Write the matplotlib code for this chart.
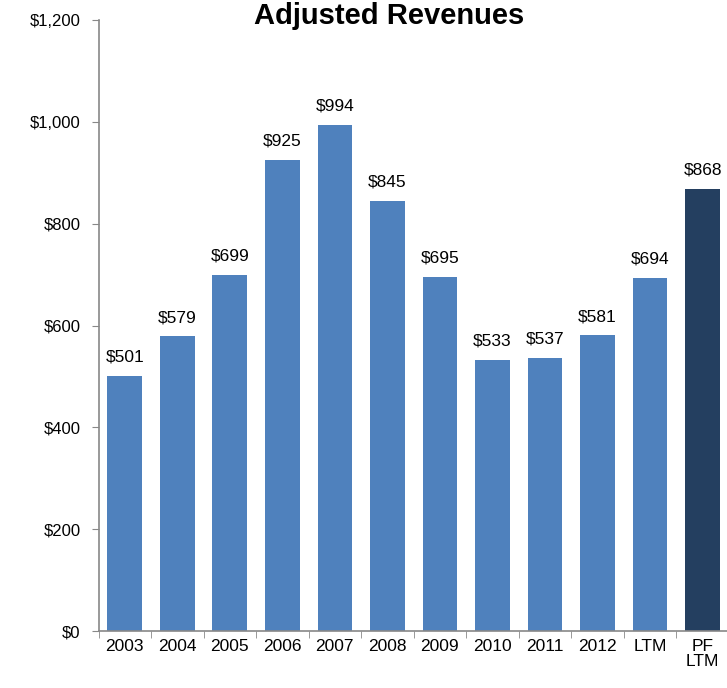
import numpy as np
from matplotlib import pyplot as plt
from matplotlib.ticker import FuncFormatter

plt.rcParams['font.family'] = ['Liberation Sans', 'DejaVu Sans']

# Data
categories = ['2003', '2004', '2005', '2006', '2007', '2008', '2009',
              '2010', '2011', '2012', 'LTM', 'PF\nLTM']
revenues = [501, 579, 699, 925, 994, 845, 695, 533, 537, 581, 694, 868]

colors = ['#4F81BD'] * 11 + ['#243F60']

fig = plt.figure(figsize=(7.27, 6.88), dpi=100)
ax = fig.add_axes([0.1355, 0.0828, 0.867, 0.888])

x = np.arange(len(categories))
bars = ax.bar(x, revenues, width=0.66, color=colors)

# value labels above bars
for xi, v in zip(x, revenues):
    ax.text(xi, v + 22, '$%d' % v, ha='center', va='bottom', fontsize=12.5)

ax.set_xlim(-0.5, len(categories) - 0.5)
ax.set_ylim(0, 1200)
ax.set_yticks(np.arange(0, 1201, 200))
ax.yaxis.set_major_formatter(FuncFormatter(lambda v, p: '${:,.0f}'.format(v)))

ax.set_xticks(x)
ax.set_xticklabels(categories, fontsize=12.5, linespacing=0.95)
ax.set_xticks(np.arange(-0.5, len(categories), 1), minor=True)
ax.tick_params(axis='x', which='major', length=0, pad=6)
ax.tick_params(axis='x', which='minor', length=5, color='#888888', direction='out')
ax.tick_params(axis='y', length=5, color='#888888', direction='out', labelsize=12, pad=8)

for s in ['top', 'right']:
    ax.spines[s].set_visible(False)
for s in ['left', 'bottom']:
    ax.spines[s].set_color('#888888')
    ax.spines[s].set_linewidth(1.2)

# title sits at the very top edge, as in the source
fig.text(0.535, 0.997, 'Adjusted Revenues', ha='center', va='top',
         fontsize=21, fontweight='bold')

fig.savefig('out.png', dpi=100)
